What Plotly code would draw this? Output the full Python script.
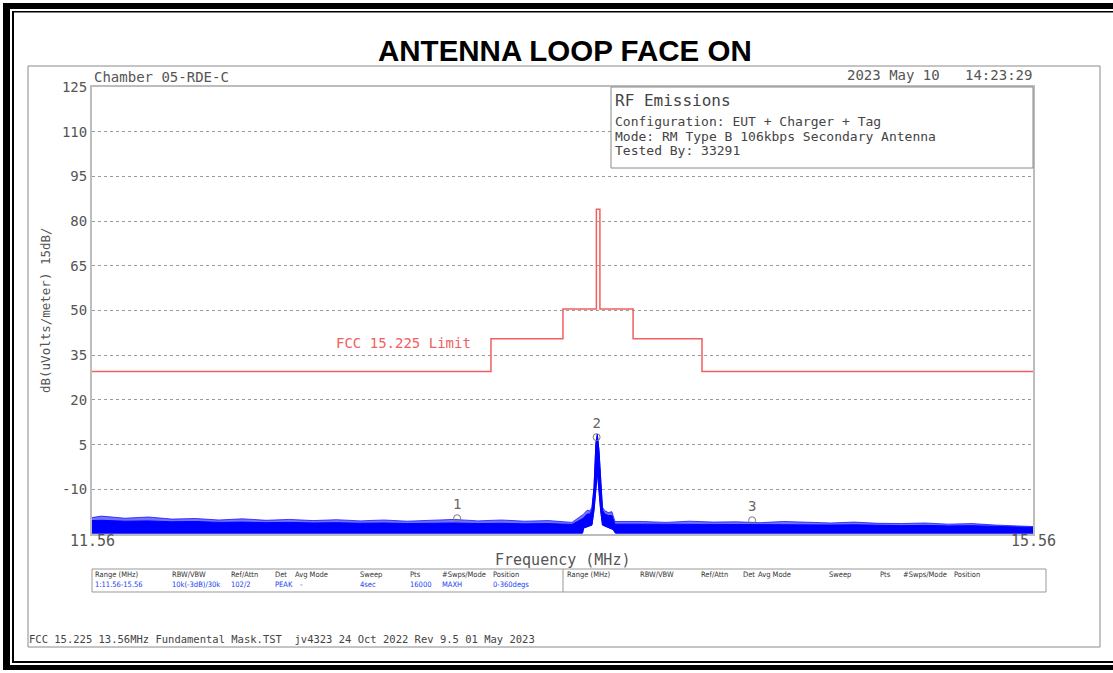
import plotly.graph_objects as go

# ---------------- data ----------------
x_range = [11.56, 15.56]
x_tick_vals = [11.56, 15.56]
x_tick_labels = ["11.56", "15.56"]
y_range = [-25, 125]
y_tick_vals = [-10, 5, 20, 35, 50, 65, 80, 95, 110, 125]
y_tick_labels = ["-10", "5", "20", "35", "50", "65", "80", "95", "110", "125"]

# FCC 15.225 limit mask (step line, as displayed)
limit_freq = [11.56, 13.256, 13.562, 13.704, 13.719, 13.860, 14.153, 15.56]
limit_db = [29.5, 40.5, 50.5, 84.0, 50.5, 40.5, 29.5, 29.5]

# measured max-hold trace: envelope of the noise band
trace_freq = [11.56, 11.60, 11.70, 11.80, 11.90, 12.00, 12.10, 12.20, 12.30, 12.40,
              12.50, 12.60, 12.70, 12.80, 12.90, 13.00, 13.10, 13.20, 13.30, 13.40,
              13.50, 13.60, 13.647, 13.665, 13.677, 13.685, 13.694, 13.702, 13.708,
              13.715, 13.722, 13.730, 13.740, 13.755, 13.770, 13.783, 13.90, 14.00,
              14.10, 14.20, 14.30, 14.40, 14.50, 14.60, 14.70, 14.80, 14.90, 15.00,
              15.10, 15.20, 15.30, 15.40, 15.50, 15.56]
# top of the spiky fringe
trace_peak_db = [-19.5, -19.0, -19.7, -19.3, -20.0, -19.8, -20.3, -19.9, -20.4, -20.1,
                 -20.5, -20.2, -20.6, -20.3, -20.7, -20.4, -20.1, -20.6, -20.3, -20.7,
                 -20.5, -21.1, -18.5, -17.0, -17.3, -16.0, -9.3, 5.5, 8.5,
                 3.1, -8.0, -16.0, -17.2, -17.8, -17.5, -20.8, -20.8, -21.1,
                 -20.7, -21.0, -20.9, -21.2, -20.8, -21.1, -21.3, -21.0, -21.4, -21.5,
                 -21.3, -21.7, -21.5, -22.0, -22.3, -22.5]
# top of the dense core
trace_core_db = [-20.5, -20.4, -20.7, -20.6, -20.9, -20.8, -21.1, -21.0, -21.2, -21.1,
                 -21.3, -21.2, -21.4, -21.3, -21.5, -21.4, -21.3, -21.5, -21.4, -21.6,
                 -21.5, -21.8, -19.8, -18.3, -18.3, -17.0, -9.3, 5.5, 8.5,
                 3.1, -8.0, -17.0, -18.3, -18.8, -18.8, -21.7, -21.7, -21.8,
                 -21.7, -21.8, -21.8, -21.9, -21.8, -21.9, -22.0, -21.9, -22.1, -22.2,
                 -22.1, -22.3, -22.2, -22.5, -22.7, -22.8]
# bottom of the band
trace_lower_freq = [11.56, 13.645, 13.650, 13.685, 13.694, 13.702, 13.708, 13.715,
                    13.722, 13.730, 13.775, 13.785, 15.56]
trace_lower_db = [-24.7, -24.7, -23.0, -22.0, -17.0, -10.0, -4.0, -10.0,
                  -17.0, -22.0, -23.5, -24.7, -24.7]

# markers
marker_freq = [13.112, 13.705, 14.366]
marker_db = [-19.7, 7.5, -20.4]
marker_labels = ["1", "2", "3"]

# texts
title_text = "ANTENNA LOOP FACE ON"
chamber_text = "Chamber 05-RDE-C"
date_text = "2023 May 10\u00a0\u00a0\u00a014:23:29"
info_title = "RF Emissions"
info_lines = ["Configuration: EUT + Charger + Tag",
              "Mode: RM Type B 106kbps Secondary Antenna",
              "Tested By: 33291"]
limit_label = "FCC 15.225 Limit"
y_title = "dB(uVolts/meter) 15dB/"
x_title = "Frequency (MHz)"
footer_text = "FCC 15.225 13.56MHz Fundamental Mask.TST  jv4323 24 Oct 2022 Rev 9.5 01 May 2023"
table_headers = ["Range (MHz)", "RBW/VBW", "Ref/Attn", "Det", "Avg Mode", "Sweep", "Pts", "#Swps/Mode", "Position"]
table_values = ["1:11.56-15.56", "10k(-3dB)/30k", "102/2", "PEAK", "-", "4sec", "16000", "MAXH", "0-360degs"]

# ---------------- layout helpers ----------------
W, H = 1113, 673
L, R, T, B = 92, 1033, 87, 534


def px(x):
    return (x - L) / (R - L)


def py(y):
    return (B - y) / (B - T)


MONO = "DejaVu Sans Mono"
GRAY = "#555555"
BLUE = "#0000ff"
RED = "#f06060"

fig = go.Figure()

# noise band: translucent fringe, then dense core
fig.add_trace(go.Scatter(x=trace_freq + trace_lower_freq[::-1],
                         y=trace_peak_db + trace_lower_db[::-1],
                         mode="lines", fill="toself", fillcolor="rgba(0,0,255,0.55)",
                         line=dict(color="rgba(0,0,255,0.7)", width=1),
                         hoverinfo="skip", showlegend=False))
fig.add_trace(go.Scatter(x=trace_freq + trace_lower_freq[::-1],
                         y=trace_core_db + trace_lower_db[::-1],
                         mode="lines", fill="toself", fillcolor=BLUE,
                         line=dict(color=BLUE, width=1),
                         hoverinfo="skip", showlegend=False))

# limit line
fig.add_trace(go.Scatter(x=limit_freq, y=limit_db, mode="lines", line_shape="hv",
                         line=dict(color=RED, width=1.5), showlegend=False))

# markers
fig.add_trace(go.Scatter(x=marker_freq, y=marker_db, mode="markers+text",
                         text=marker_labels, textposition="top center",
                         textfont=dict(family=MONO, size=14, color="#666666"),
                         marker=dict(symbol="circle-open", size=7,
                                     color="#777777", line=dict(width=1)),
                         showlegend=False))

shapes = []


def blk(x0, y0, x1, y1):
    shapes.append(dict(type="rect", xref="paper", yref="paper",
                       x0=px(x0), x1=px(x1), y0=py(y0), y1=py(y1),
                       fillcolor="black", line=dict(width=0), layer="above"))


blk(3, 3, 1113, 9)      # top thick
blk(12, 11, 1113, 12.5) # top thin
blk(3, 3, 10, 670)      # left thick
blk(12, 11, 14, 663)    # left thin
blk(12, 661, 1113, 663) # bottom thin
blk(3, 665, 1113, 670)  # bottom thick

# inner gray frame
shapes.append(dict(type="rect", xref="paper", yref="paper",
                   x0=px(28), x1=px(1100), y0=py(66), y1=py(647),
                   line=dict(color="#8a8a8a", width=1), layer="below"))
# info box
shapes.append(dict(type="rect", xref="paper", yref="paper",
                   x0=px(611), x1=px(1033), y0=py(87), y1=py(168),
                   fillcolor="white", line=dict(color="#8a8a8a", width=1), layer="above"))
# table box
shapes.append(dict(type="rect", xref="paper", yref="paper",
                   x0=px(92), x1=px(1046), y0=py(569), y1=py(592),
                   line=dict(color="#999999", width=1), layer="above"))
shapes.append(dict(type="line", xref="paper", yref="paper",
                   x0=px(563), x1=px(563), y0=py(569), y1=py(592),
                   line=dict(color="#999999", width=1), layer="above"))

annotations = []


def ann(text, x, y, size, color=GRAY, xanchor="left", family=MONO, **kw):
    annotations.append(dict(text=text, x=px(x), y=py(y), xref="paper", yref="paper",
                            xanchor=xanchor, yanchor="middle", showarrow=False,
                            font=dict(family=family, size=size, color=color), **kw))


ann("<b>" + title_text + "</b>", 564.5, 50, 29.5, color="black", xanchor="center",
    family="Liberation Sans, Arial, sans-serif")
ann(chamber_text, 92, 77, 14)
ann(date_text, 1034, 75, 14, xanchor="right")
ann(info_title, 613, 100, 16, color="#444444")
for i, line in enumerate(info_lines):
    ann(line, 613, 122 + 14 * i, 13, color="#444444")
ann(limit_label, 334, 343, 14, color=RED)
ann(x_title, 562, 560, 15, xanchor="center")
ann(footer_text, 27, 639, 10.5, color="#444444")
annotations.append(dict(text=y_title, x=px(45), y=py(310), xref="paper", yref="paper",
                        textangle=-90, showarrow=False, xanchor="center", yanchor="middle",
                        font=dict(family=MONO, size=12.5, color=GRAY)))
# x tick labels placed on the x scale
for xv, xt in zip(x_tick_vals, x_tick_labels):
    annotations.append(dict(text=xt, x=xv, y=py(541), xref="x", yref="paper",
                            xanchor="center", yanchor="middle", showarrow=False,
                            font=dict(family=MONO, size=15, color=GRAY)))

left_cols = [93, 170, 229, 273, 293, 358, 408, 440, 491]
left_val_cols = [93, 170, 229, 273, 298, 358, 408, 440, 491]
right_cols = [565, 638, 699, 741, 756, 827, 878, 901, 952]
TFONT = "DejaVu Sans Condensed, Liberation Sans Narrow, sans-serif"
for xc, h in zip(left_cols, table_headers):
    ann(h, xc, 574, 7.5, color="#333333", family=TFONT)
for xc, v in zip(left_val_cols, table_values):
    ann(v, xc, 584, 7.5, color="#2040f0", family=TFONT)
for xc, h in zip(right_cols, table_headers):
    ann(h, xc, 574, 7.5, color="#333333", family=TFONT)

fig.update_layout(
    width=W, height=H,
    margin=dict(l=L, r=W - R, t=T, b=H - B, pad=0),
    paper_bgcolor="white", plot_bgcolor="white",
    shapes=shapes, annotations=annotations,
    xaxis=dict(range=x_range, tickvals=x_tick_vals, showticklabels=False,
               showgrid=False, zeroline=False, showline=True, mirror=True,
               linecolor="#bdbdbd", linewidth=2, ticks="", fixedrange=True),
    yaxis=dict(range=y_range, tickvals=y_tick_vals, ticktext=y_tick_labels,
               showgrid=True, gridcolor="#9a9a9a", griddash="dot", gridwidth=1,
               zeroline=False, showline=True, mirror=True,
               linecolor="#bdbdbd", linewidth=2, ticks="",
               tickfont=dict(family=MONO, size=14, color=GRAY), fixedrange=True),
    showlegend=False,
)

fig.write_html("out.html")
